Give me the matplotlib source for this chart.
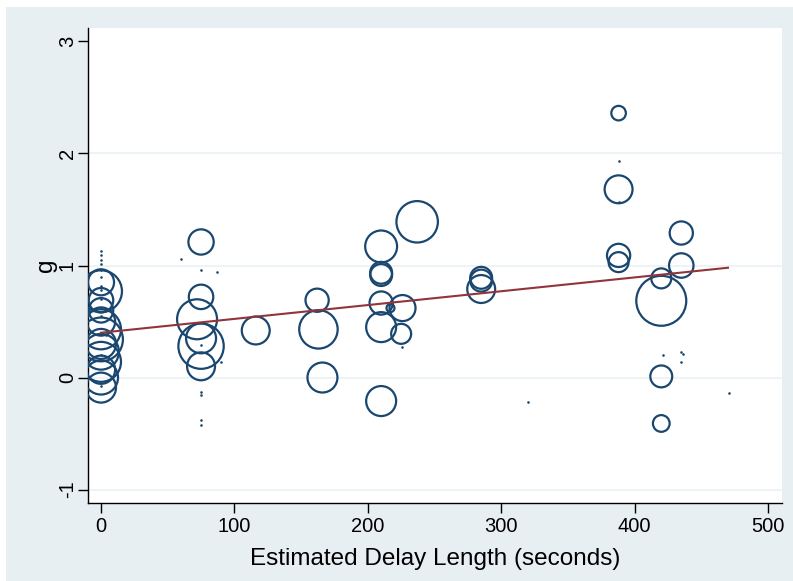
import matplotlib
matplotlib.use("Agg")
import matplotlib.pyplot as plt
from matplotlib.patches import Rectangle

plt.rcParams['axes.unicode_minus'] = False

# bubbles: delay length, g, weight
bub_x = [0, 0, 0, 0, 0, 0, 0, 0, 0, 0, 0, 0, 0,
         75, 72, 75, 75, 75, 75, 116,
         162, 163, 166, 210, 210, 210, 210, 210, 217, 226, 225, 210, 237,
         285, 285, 285,
         388, 388, 388, 388,
         435, 435, 420, 420, 420, 420]
bub_y = [0.85, 0.77, 0.69, 0.60, 0.50, 0.43, 0.34, 0.30, 0.23, 0.14, 0.07, 0.00, -0.09,
         1.21, 0.52, 0.72, 0.35, 0.28, 0.10, 0.42,
         0.69, 0.43, 0.00, 1.17, 0.935, 0.915, 0.665, 0.45, 0.62, 0.62, 0.39, -0.21, 1.39,
         0.89, 0.865, 0.79,
         2.36, 1.68, 1.09, 1.03,
         1.29, 1.00, 0.885, 0.685, 0.01, -0.41]
bub_w = [170, 440, 150, 150, 200, 400, 480, 225, 320, 400, 200, 290, 225,
         160, 400, 150, 225, 515, 195, 195,
         135, 370, 225, 255, 120, 120, 135, 225, 16, 170, 100, 225, 430,
         120, 120, 195,
         53, 195, 135, 100,
         135, 150, 100, 625, 120, 70]

# tiny dots (very small weights)
dot_x = [0, 0, 0, 0, 0, 0, 0, 0, 0, 0, 0, 0, 4, 0,
         60, 75, 87, 75, 90, 75, 75, 75, 75,
         226, 320, 388, 388, 421, 435, 436, 435, 471]
dot_y = [1.13, 1.09, 1.05, 1.01, 0.96, 0.90, 0.82, 0.78, 0.70, 0.62, 0.55, 0.20, 0.38, -0.08,
         1.06, 0.96, 0.94, 0.29, 0.14, -0.125, -0.16, -0.38, -0.42,
         0.27, -0.22, 1.93, 1.57, 0.20, 0.225, 0.21, 0.14, -0.135]

# weighted linear fit
fit_x = [0, 470]
fit_y = [0.40, 0.98]

navy = "#1a476f"
maroon = "#90353b"
bg = "#e8eff2"

fig = plt.figure(figsize=(7.93, 5.81), dpi=100, facecolor="white")
fig.patches.append(Rectangle((6 / 793, 0), 1, 1 - 7 / 581, transform=fig.transFigure,
                             facecolor=bg, edgecolor="none", zorder=-5))
ax = fig.add_axes([88 / 793, 78 / 581, 694 / 793, 475 / 581])
ax.set_facecolor("white")

ax.scatter(bub_x, bub_y, s=[w * 2.07 for w in bub_w], facecolors="none",
           edgecolors=navy, linewidths=1.6, zorder=3)
ax.scatter(dot_x, dot_y, s=3.5, color=navy, linewidths=0, zorder=3)
ax.plot(fit_x, fit_y, color=maroon, linewidth=1.5, zorder=4)

ax.set_xlim(-9.75, 510.5)
ax.set_ylim(-1.12, 3.12)
ax.set_xticks([0, 100, 200, 300, 400, 500])
ax.set_yticks([-1, 0, 1, 2, 3])
for yv in [-1, 0, 1, 2]:
    ax.axhline(yv, color="#eaf2f3", linewidth=1.2, zorder=1)

for s in ["top", "right"]:
    ax.spines[s].set_visible(False)
for s in ["left", "bottom"]:
    ax.spines[s].set_color("black")
    ax.spines[s].set_linewidth(1.0)

ax.tick_params(axis="both", direction="out", length=7, width=1.0, colors="black",
               labelsize=14.5, pad=3)
ax.tick_params(axis="y", pad=1)
for lab in ax.get_yticklabels():
    lab.set_rotation(90)
    lab.set_va("center")
for lab in ax.get_xticklabels() + ax.get_yticklabels():
    lab.set_family("Liberation Sans")

ax.set_xlabel("Estimated Delay Length (seconds)", fontsize=17.5, family="Liberation Sans", labelpad=9)
ax.set_ylabel("g", fontsize=17.5, family="Liberation Sans", labelpad=1)

fig.savefig("out.png", dpi=100, facecolor=fig.get_facecolor())
